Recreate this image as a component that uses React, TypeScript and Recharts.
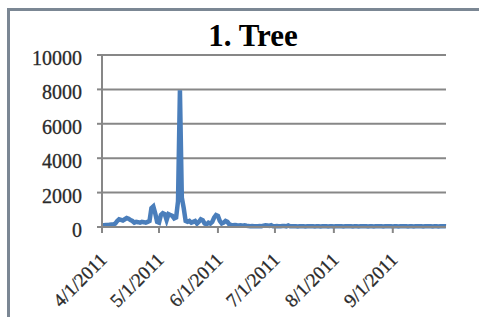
import React from "react";
import { LineChart, Line, XAxis, YAxis, CartesianGrid } from "recharts";

const startDate = [2011, 4, 1];

const dailyValues: number[] = [
  80, 100, 120, 110, 130, 150, 140, 200, 350, 450,
  420, 380, 450, 520, 480, 400, 350, 250, 300, 280,
  250, 300, 280, 250, 300, 350, 1100, 1200, 800, 300,
  250, 700, 800, 750, 400, 750, 700, 650, 500, 550,
  1500, 7950, 1700, 1100, 350, 300, 350, 250, 300, 350,
  200, 300, 450, 400, 200, 150, 250, 200, 300, 550,
  700, 650, 350, 200, 250, 350, 300, 150, 120, 100,
  120, 100, 90, 100, 80, 100, 70, 60, 50, 60,
  50, 40, 50, 60, 50, 80, 100, 90, 60, 100,
  40, 50, 60, 50, 40, 60, 60, 40, 90, 40,
  40, 50, 40, 30, 40, 50, 40, 30, 40, 40,
  50, 40, 30, 40, 40, 30, 40, 50, 40, 30,
  40, 40, 30, 40, 50, 40, 40, 30, 40, 40,
  50, 40, 30, 40, 40, 30, 40, 40, 50, 40,
  30, 40, 40, 30, 40, 50, 40, 40, 30, 40,
  40, 50, 40, 30, 40, 40, 30, 40, 40, 50,
  40, 30, 40, 40, 30, 40, 50, 40, 40, 30,
  40, 40, 50, 40, 30, 40, 40, 30, 40, 40,
  50, 40,
];

const tickDates = ["4/1/2011", "5/1/2011", "6/1/2011", "7/1/2011", "8/1/2011", "9/1/2011"];
const yTicks = [0, 2000, 4000, 6000, 8000, 10000];
const title = "1. Tree";

const dayOf = (label: string) => {
  const [m, d, y] = label.split("/").map(Number);
  return Math.round((Date.UTC(y, m - 1, d) - Date.UTC(startDate[0], startDate[1] - 1, startDate[2])) / 86400000);
};

const data = dailyValues.map((v, i) => ({ day: i, value: v }));
const tickDays = tickDates.map(dayOf);
const labelByDay: Record<number, string> = {};
tickDates.forEach((t, i) => (labelByDay[tickDays[i]] = t));

const FONT = "'Liberation Serif', 'Times New Roman', serif";
const GRID = "#878787";
const TEXT = "#2a2a2a";

const XTick = (props: any) => {
  const { x, y, payload } = props;
  return (
    <g transform={`translate(${x + 6},${y + 28})`}>
      <text x={0} y={0} textAnchor="end" transform="rotate(-45)" fontFamily={FONT} fontSize={19} fill={TEXT} stroke={TEXT} strokeWidth={0.3}>
        {labelByDay[payload.value]}
      </text>
    </g>
  );
};

const YTick = (props: any) => {
  const { x, y, payload } = props;
  return (
    <text x={x} y={y + 10} textAnchor="end" fontFamily={FONT} fontSize={20} fill={TEXT} stroke={TEXT} strokeWidth={0.3}>
      {payload.value}
    </text>
  );
};

export default function App() {
  return (
    <div style={{ position: "absolute", left: 0, top: 0, width: 479, height: 317, background: "#fff", overflow: "hidden" }}>
      <div
        style={{
          position: "absolute",
          left: 7,
          top: 8,
          width: 500,
          height: 400,
          borderLeft: "3px solid #7b8794",
          borderTop: "3px solid #7b8794",
        }}
      />
      <svg style={{ position: "absolute", left: 0, top: 0 }} width={479} height={60}>
        <text x={253} y={46} textAnchor="middle" fontFamily={FONT} fontWeight="bold" fontSize={31} fill="#000">
          {title}
        </text>
      </svg>
      <div style={{ position: "absolute", left: 0, top: 0 }}>
        <LineChart width={479} height={317} data={data} margin={{ top: 55, right: 33, bottom: 0, left: 0 }}>
          <CartesianGrid horizontal vertical={false} stroke={GRID} strokeWidth={2} />
          <XAxis
            type="number"
            dataKey="day"
            domain={[0, dailyValues.length - 1]}
            ticks={tickDays}
            interval={0}
            height={90}
            tickSize={6}
            tickMargin={0}
            axisLine={{ stroke: GRID, strokeWidth: 2 }}
            tickLine={{ stroke: GRID, strokeWidth: 2 }}
            tick={<XTick />}
          />
          <YAxis
            type="number"
            domain={[0, 10000]}
            ticks={yTicks}
            interval={0}
            width={102}
            tickSize={5}
            tickMargin={15}
            axisLine={{ stroke: GRID, strokeWidth: 2 }}
            tickLine={{ stroke: GRID, strokeWidth: 2 }}
            tick={<YTick />}
          />
          <Line
            type="linear"
            dataKey="value"
            stroke="#4a7ebb"
            strokeWidth={4.5}
            dot={false}
            isAnimationActive={false}
          />
        </LineChart>
      </div>
    </div>
  );
}
